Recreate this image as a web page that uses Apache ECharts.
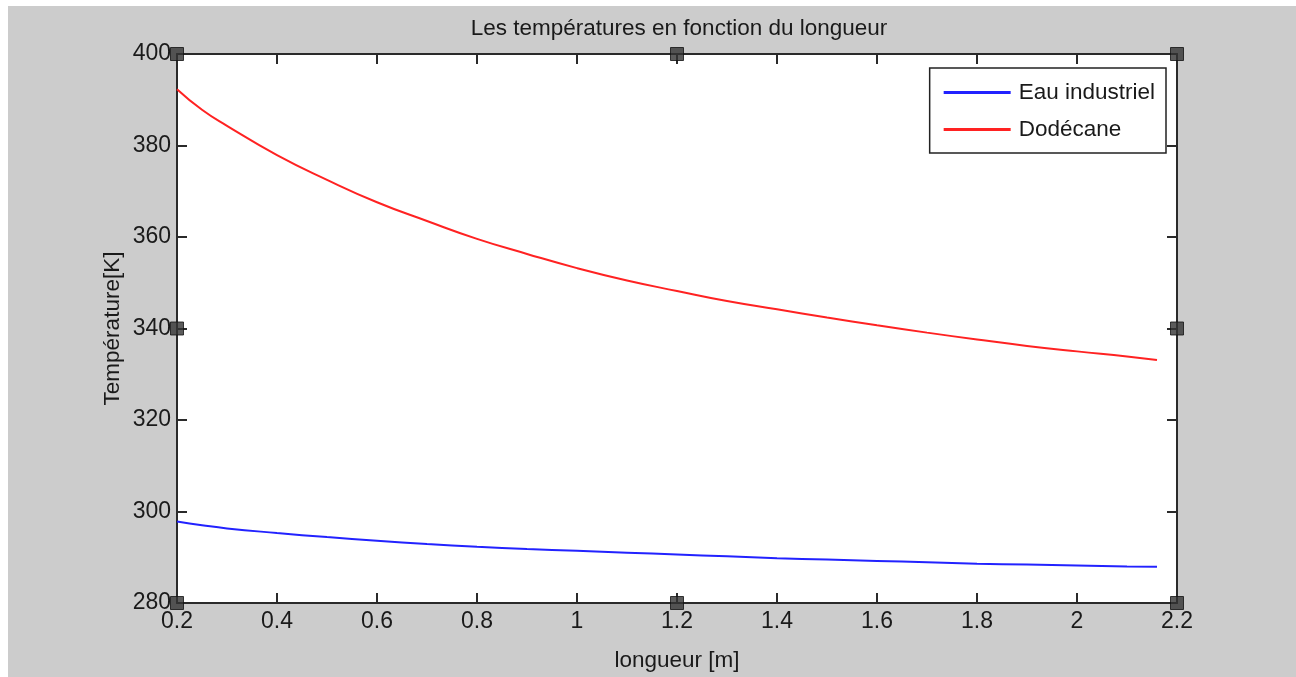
<!DOCTYPE html>
<html>
<head>
<meta charset="utf-8">
<script src="https://cdn.jsdelivr.net/npm/echarts@6/dist/echarts.min.js"></script>
<style>
  html, body { margin: 0; padding: 0; background: #ffffff; width: 1296px; height: 677px; overflow: hidden; }
  #chart { position: absolute; left: 8px; top: 6px; width: 1288px; height: 671px; }
</style>
</head>
<body>
<div id="chart"></div>
<script>
// ---- data ----
const longueur = [0.2, 0.25, 0.3, 0.4, 0.5, 0.6, 0.7, 0.8, 0.9, 1.0, 1.1, 1.2, 1.3, 1.4, 1.5, 1.6, 1.7, 1.8, 1.9, 2.0, 2.1, 2.16];
const eauIndustriel = [297.8, 297.0, 296.3, 295.3, 294.4, 293.6, 292.9, 292.3, 291.8, 291.4, 291.0, 290.6, 290.2, 289.8, 289.5, 289.2, 288.9, 288.6, 288.4, 288.2, 288.0, 287.9];
const dodecane = [392.3, 387.8, 384.3, 377.9, 372.5, 367.6, 363.5, 359.6, 356.3, 353.2, 350.5, 348.2, 346.0, 344.2, 342.4, 340.7, 339.1, 337.6, 336.2, 335.0, 333.9, 333.1];
const seriesNames = ['Eau industriel', 'Dodécane'];
const titleText = 'Les températures en fonction du longueur';
const xName = 'longueur [m]';
const yName = 'Température[K]';
const xMin = 0.2, xMax = 2.2, xStep = 0.2;
const yMin = 280, yMax = 400, yStep = 20;

const FONT = "'Liberation Sans', Arial, sans-serif";
const TXT = '#1a1a1a';
const AX = '#2a2a2a';
const FS = 22.5;
const FS_TICK = 23;

const xMid = (xMin + xMax) / 2, yMid = (yMin + yMax) / 2;
const handlePoints = [
  [xMin, yMax], [xMid, yMax], [xMax, yMax],
  [xMin, yMid], [xMax, yMid],
  [xMin, yMin], [xMid, yMin], [xMax, yMin]
];

const pairs = (xs, ys) => xs.map((x, i) => [x, ys[i]]);

const chart = echarts.init(document.getElementById('chart'), null, { renderer: 'canvas' });

const axisCommon = {
  axisLine: { show: true, lineStyle: { color: AX, width: 2 } },
  axisTick: { show: true, inside: true, length: 10, lineStyle: { color: AX, width: 2 } },
  splitLine: { show: false }
};

chart.setOption({
  backgroundColor: '#cccccc',
  animation: false,
  title: {
    text: titleText,
    left: 666,
    textAlign: 'center',
    top: 6,
    textStyle: { fontFamily: FONT, fontSize: FS, fontWeight: 'normal', color: TXT }
  },
  legend: {
    data: seriesNames,
    orient: 'vertical',
    right: 130,
    top: 62,
    backgroundColor: '#ffffff',
    borderColor: '#222222',
    borderWidth: 1.5,
    padding: [13, 11, 12, 14],
    itemGap: 14,
    itemWidth: 67,
    itemHeight: 3,
    icon: 'rect',
    textStyle: { fontFamily: FONT, fontSize: FS, color: TXT, padding: [0, 0, 0, 3] }
  },
  grid: { show: true, backgroundColor: '#ffffff', borderWidth: 0, left: 169, right: 119, top: 48, bottom: 74, containLabel: false },
  xAxis: [
    Object.assign({
      type: 'value', min: xMin, max: xMax, interval: xStep, position: 'bottom',
      name: xName, nameLocation: 'middle', nameGap: 46, nameMoveOverlap: false,
      nameTextStyle: { fontFamily: FONT, fontSize: FS, color: TXT },
      axisLabel: { fontFamily: FONT, fontSize: FS_TICK, color: TXT, margin: 7, showMinLabel: true, showMaxLabel: true }
    }, axisCommon),
    Object.assign({
      type: 'value', min: xMin, max: xMax, interval: xStep, position: 'top',
      axisLabel: { show: false }
    }, axisCommon)
  ],
  yAxis: [
    Object.assign({
      type: 'value', min: yMin, max: yMax, interval: yStep, position: 'left',
      name: yName, nameLocation: 'middle', nameGap: 53, nameRotate: 90, nameMoveOverlap: false,
      nameTextStyle: { fontFamily: FONT, fontSize: FS, color: TXT },
      axisLabel: { fontFamily: FONT, fontSize: FS_TICK, color: TXT, margin: 6 }
    }, axisCommon),
    Object.assign({
      type: 'value', min: yMin, max: yMax, interval: yStep, position: 'right',
      axisLabel: { show: false }
    }, axisCommon)
  ],
  series: [
    {
      name: seriesNames[0], type: 'line', xAxisIndex: 0, yAxisIndex: 0,
      data: pairs(longueur, eauIndustriel), smooth: true, symbol: 'none',
      lineStyle: { color: '#2222ff', width: 2 }, itemStyle: { color: '#2222ff' }, z: 3
    },
    {
      name: seriesNames[1], type: 'line', xAxisIndex: 0, yAxisIndex: 0,
      data: pairs(longueur, dodecane), smooth: true, symbol: 'none',
      lineStyle: { color: '#ff2222', width: 2 }, itemStyle: { color: '#ff2222' }, z: 3
    },
    {
      name: 'handles', type: 'scatter', xAxisIndex: 0, yAxisIndex: 0,
      data: handlePoints, symbol: 'rect', symbolSize: 13, clip: false, silent: true,
      itemStyle: { color: '#333333', borderColor: '#111111', borderWidth: 1 }, z: 10
    }
  ]
});
</script>
</body>
</html>
